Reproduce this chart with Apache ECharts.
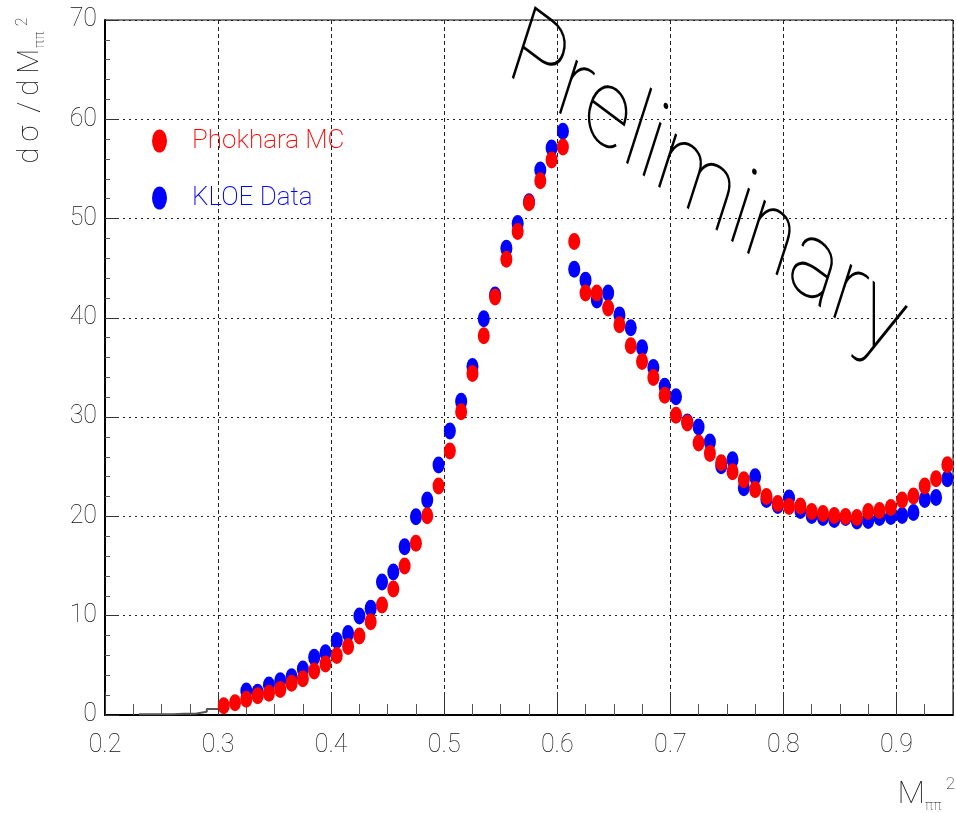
<!DOCTYPE html>
<html>
<head>
<meta charset="utf-8">
<script src="https://cdn.jsdelivr.net/npm/echarts@6/dist/echarts.min.js"></script>
<style>html,body{margin:0;padding:0;background:#fff}#c{width:956px;height:813px}</style>
</head>
<body>
<div id="c"></div>
<script>
// bin centres (M_pipi^2)
const mBins = [0.305,0.315,0.325,0.335,0.345,0.355,0.365,0.375,0.385,0.395,
  0.405,0.415,0.425,0.435,0.445,0.455,0.465,0.475,0.485,0.495,
  0.505,0.515,0.525,0.535,0.545,0.555,0.565,0.575,0.585,0.595,
  0.605,0.615,0.625,0.635,0.645,0.655,0.665,0.675,0.685,0.695,
  0.705,0.715,0.725,0.735,0.745,0.755,0.765,0.775,0.785,0.795,
  0.805,0.815,0.825,0.835,0.845,0.855,0.865,0.875,0.885,0.895,
  0.905,0.915,0.925,0.935,0.945];
// Phokhara MC
const phokhara = [0.94,1.24,1.58,1.95,2.18,2.58,3.19,3.66,4.43,5.14,
  6.0,6.9,7.96,9.4,11.08,12.7,15.0,17.3,20.07,23.06,
  26.6,30.55,34.4,38.2,42.1,45.9,48.7,51.6,53.8,55.9,
  57.2,47.7,42.5,42.5,41.0,39.3,37.2,35.6,34.0,32.2,
  30.2,29.4,27.4,26.35,25.4,24.5,23.7,22.7,22.0,21.3,
  21.0,21.05,20.5,20.3,20.1,20.0,19.9,20.5,20.6,20.9,
  21.65,22.05,23.06,23.8,25.2];
// KLOE data
const kloe = [null,null,2.42,2.28,3.02,3.46,3.86,4.63,5.81,6.28,
  7.5,8.2,9.97,10.74,13.4,14.4,16.95,19.97,21.65,25.18,
  28.6,31.6,35.1,39.9,42.3,47.0,49.5,51.7,54.9,57.1,
  58.8,44.9,43.8,41.8,42.5,40.3,39.0,37.0,35.0,33.1,
  32.05,29.5,29.0,27.5,25.1,25.7,22.9,24.0,21.7,21.1,
  21.85,20.6,20.1,19.9,19.7,19.9,19.55,19.6,19.9,20.0,
  20.1,20.4,21.7,21.9,23.8];
// small histogram near threshold (bin left edges)
const lowEdges = [0.23,0.24,0.25,0.26,0.27,0.28,0.29,0.30];
const lowVals  = [0.07,0.07,0.07,0.13,0.13,0.33,0.6,0.6];

const xTickLabels = ['0.2','0.3','0.4','0.5','0.6','0.7','0.8','0.9'];
const yTickLabels = ['0','10','20','30','40','50','60','70'];

const ellipse = 'path://M0,10A10,10,0,1,1,20,10A10,10,0,1,1,0,10Z';
const legendEllipse = 'path://M0,11.5A7.5,11.5,0,1,1,15,11.5A7.5,11.5,0,1,1,0,11.5Z';
const thinFont = 'Roboto, "DejaVu Sans", sans-serif';

function pairs(xs, ys){ const out=[]; xs.forEach((x,i)=>{ if(ys[i]!=null) out.push([x,ys[i]]); }); return out; }

const chart = echarts.init(document.getElementById('c'), null, {renderer:'canvas'});
const tk = {fontFamily:thinFont, fontWeight:100, fill:'#111'};
chart.setOption({
  animation:false,
  backgroundColor:'#fff',
  grid:{left:105, top:20, width:852, height:695, show:true, borderColor:'#000', borderWidth:1, backgroundColor:'transparent'},
  legend:{
    orient:'vertical', left:147, top:123, itemGap:31, itemWidth:15, itemHeight:23,
    symbolKeepAspect:false,
    data:[
      {name:'Phokhara MC', icon:legendEllipse, textStyle:{color:'#ff0000'}},
      {name:'KLOE Data', icon:legendEllipse, textStyle:{color:'#0000ff'}}
    ],
    textStyle:{fontFamily:thinFont, fontWeight:200, fontSize:26, lineHeight:23, padding:[0,0,0,20]}
  },
  xAxis:{
    type:'value', min:0.2, max:0.95, interval:0.1,
    axisLine:{show:true, onZero:false, lineStyle:{color:'#000', width:2}},
    axisTick:{show:true, inside:true, length:23, lineStyle:{color:'#333'}},
    minorTick:{show:true, splitNumber:4, length:11, lineStyle:{color:'#555'}},
    splitLine:{show:true, lineStyle:{color:'#222', type:[4,3], width:1}},
    axisLabel:{margin:18, fontFamily:thinFont, fontWeight:100, fontSize:25, color:'#111',
      formatter:(v)=>{ const i=Math.round((v-0.2)*10); return (Math.abs((v-0.2)*10-i)<1e-6 && xTickLabels[i]) ? xTickLabels[i] : ''; }}
  },
  yAxis:{
    type:'value', min:0, max:70, interval:10,
    axisLine:{show:true, lineStyle:{color:'#000', width:2}},
    axisTick:{show:true, inside:true, length:14, lineStyle:{color:'#333'}},
    minorTick:{show:true, splitNumber:5, length:5, lineStyle:{color:'#555'}},
    splitLine:{show:true, lineStyle:{color:'#222', type:[2,4], width:1}},
    axisLabel:{margin:8, fontFamily:thinFont, fontWeight:100, fontSize:25, color:'#111',
      formatter:(v)=> yTickLabels[Math.round(v/10)] || ''}
  },
  series:[
    {type:'line', name:'low', step:'end', data:pairs(lowEdges, lowVals), symbol:'none',
      lineStyle:{color:'#555', width:2}, silent:true},
    {type:'scatter', name:'KLOE Data', data:pairs(mBins, kloe), symbol:ellipse, symbolSize:[12,17],
      symbolKeepAspect:false, itemStyle:{color:'#0000ff', opacity:1}},
    {type:'scatter', name:'Phokhara MC', data:pairs(mBins, phokhara), symbol:ellipse, symbolSize:[12,17],
      symbolKeepAspect:false, itemStyle:{color:'#ff0000', opacity:1}}
  ],
  graphic:[
    {type:'text', x:496, y:97, rotation:-0.64, skewX:0.33, z:100,
      style:{text:'Preliminary', fontFamily:thinFont, fontWeight:100, fontSize:100,
        fill:'#000', align:'left', verticalAlign:'bottom'}},
    {type:'text', x:31, y:92, rotation:Math.PI/2, z:100,
      style:{text:'{a|d}{a|σ}{s| }{a|/}{a|d}{m|M}{b|ππ}{c|2}', align:'center', verticalAlign:'middle',
        rich:{
          a:Object.assign({fontSize:29, verticalAlign:'middle', lineHeight:32, padding:[0,3,0,3]}, tk),
          s:Object.assign({fontSize:29, verticalAlign:'middle', lineHeight:32}, tk),
          m:Object.assign({fontSize:29, verticalAlign:'middle', lineHeight:32, padding:[0,1,0,3]}, tk),
          b:Object.assign({fontSize:14, verticalAlign:'bottom', padding:[10,0,0,0]}, tk),
          c:Object.assign({fontSize:16, verticalAlign:'top', padding:[0,0,12,5]}, tk)
        }}},
    {type:'text', x:955, y:795, z:100,
      style:{text:'{a|M}{b|ππ}{c|2}', align:'right', verticalAlign:'middle',
        rich:{
          a:Object.assign({fontSize:32, verticalAlign:'middle', lineHeight:34}, tk),
          b:Object.assign({fontSize:14, verticalAlign:'bottom', padding:[10,0,0,0]}, tk),
          c:Object.assign({fontSize:17, verticalAlign:'top', padding:[0,0,20,4]}, tk)
        }}}
  ]
});
</script>
</body>
</html>
